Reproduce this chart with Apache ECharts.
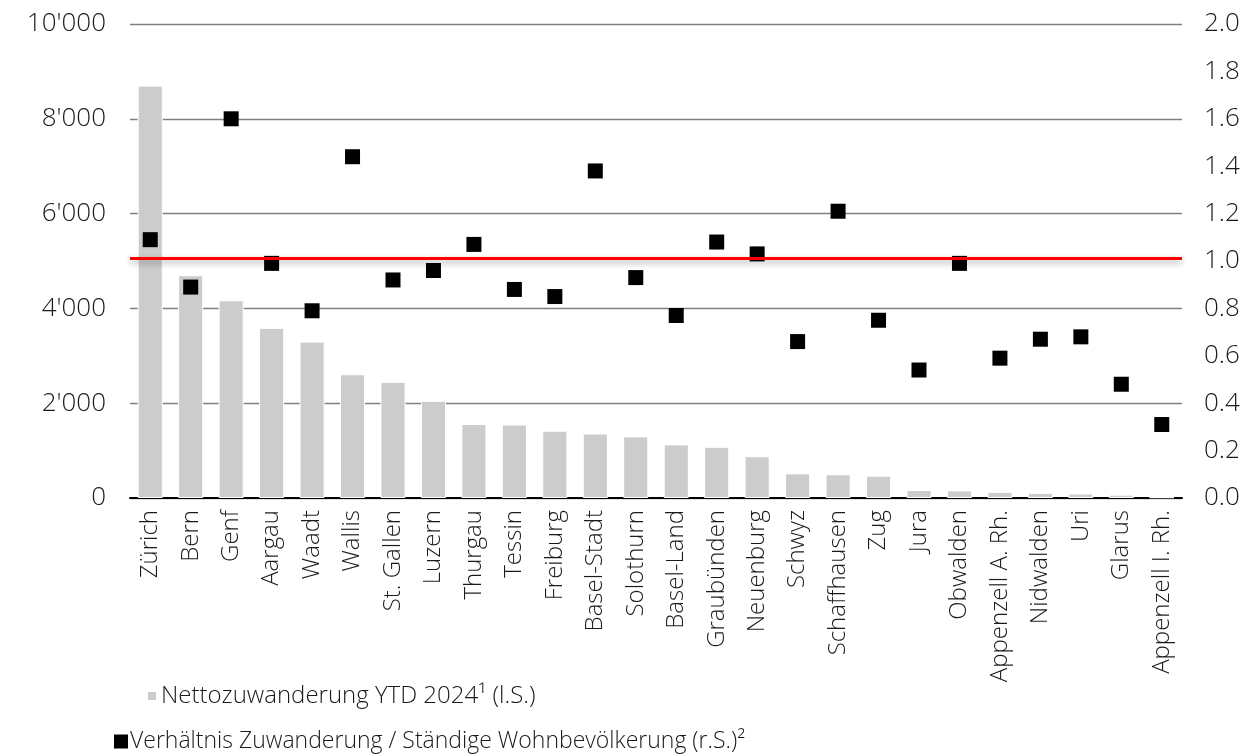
<!DOCTYPE html>
<html>
<head>
<meta charset="utf-8">
<title>Nettozuwanderung nach Kanton</title>
<script src="https://cdn.jsdelivr.net/npm/echarts@6/dist/echarts.min.js"></script>
<style>
  html, body { margin: 0; padding: 0; background: #ffffff; }
  #chart { width: 1247px; height: 754px; }
</style>
</head>
<body>
<div id="chart"></div>
<script>
// Cantons, ordered by net immigration
const cantons = [
  'Zürich', 'Bern', 'Genf', 'Aargau', 'Waadt', 'Wallis', 'St. Gallen', 'Luzern',
  'Thurgau', 'Tessin', 'Freiburg', 'Basel-Stadt', 'Solothurn', 'Basel-Land',
  'Graubünden', 'Neuenburg', 'Schwyz', 'Schaffhausen', 'Zug', 'Jura', 'Obwalden',
  'Appenzell A. Rh.', 'Nidwalden', 'Uri', 'Glarus', 'Appenzell I. Rh.'
];

// Net immigration YTD 2024 (left scale)
const netImmigration = [
  8700, 4700, 4170, 3590, 3300, 2610, 2450, 2050,
  1560, 1550, 1420, 1360, 1300, 1130,
  1080, 880, 520, 500, 470, 170, 160,
  130, 110, 95, 70, 15
];

// Ratio immigration / resident population (right scale)
const ratio = [
  1.09, 0.89, 1.60, 0.99, 0.79, 1.44, 0.92, 0.96,
  1.07, 0.88, 0.85, 1.38, 0.93, 0.77,
  1.08, 1.03, 0.66, 1.21, 0.75, 0.54, 0.99,
  0.59, 0.67, 0.68, 0.48, 0.31
];

// Reference level on the right scale
const ratioReference = 1.015;

const leftTicks = { min: 0, max: 10000, interval: 2000 };
const rightTicks = { min: 0, max: 2, interval: 0.2 };

const barName = 'Nettozuwanderung YTD 2024¹ (l.S.)';
const dotName = 'Verhältnis Zuwanderung / Ständige Wohnbevölkerung (r.S.)²';

const FONT = '"Open Sans", "Noto Sans", sans-serif';
const TEXT = '#1a1a1a';
const WEIGHT = 300;

function thousands(v) {
  return String(Math.round(v)).replace(/\B(?=(\d{3})+(?!\d))/g, "'");
}

const chart = echarts.init(document.getElementById('chart'), null, { renderer: 'canvas' });

chart.setOption({
  animation: false,
  backgroundColor: '#ffffff',
  textStyle: { fontFamily: FONT, color: TEXT },
  grid: { left: 130, right: 65, top: 24, bottom: 256, containLabel: false },
  legend: [
    {
      data: [{ name: barName, icon: 'rect' }],
      left: 141, top: 679,
      itemWidth: 10, itemHeight: 10, itemGap: 0,
      textStyle: { fontFamily: FONT, fontSize: 24, fontWeight: WEIGHT, color: TEXT, padding: [0, 0, 0, -1] },
      selectedMode: false
    },
    {
      data: [{ name: dotName, icon: 'rect' }],
      left: 109, top: 725,
      itemWidth: 14, itemHeight: 14, itemGap: 0,
      textStyle: { fontFamily: FONT, fontSize: 23, fontWeight: WEIGHT, color: TEXT, padding: [0, 0, 0, -3] },
      selectedMode: false
    }
  ],
  xAxis: {
    type: 'category',
    data: cantons,
    axisLine: { lineStyle: { color: '#000000', width: 2 } },
    axisTick: { show: false },
    axisLabel: {
      rotate: 90,
      interval: 0,
      margin: 12,
      fontFamily: FONT,
      fontSize: 24,
      fontWeight: WEIGHT,
      color: TEXT
    }
  },
  yAxis: [
    {
      type: 'value',
      min: leftTicks.min, max: leftTicks.max, interval: leftTicks.interval,
      axisLine: { show: false },
      axisTick: { show: false },
      splitLine: { lineStyle: { color: '#7f7f7f', width: 1.3 } },
      axisLabel: {
        margin: 24,
        fontFamily: FONT, fontSize: 26, fontWeight: WEIGHT, color: TEXT,
        formatter: thousands
      }
    },
    {
      type: 'value',
      position: 'right',
      min: rightTicks.min, max: rightTicks.max, interval: rightTicks.interval,
      axisLine: { show: false },
      axisTick: { show: false },
      splitLine: { show: false },
      axisLabel: {
        margin: 22,
        fontFamily: FONT, fontSize: 26, fontWeight: WEIGHT, color: TEXT,
        formatter: v => v.toFixed(1)
      }
    }
  ],
  series: [
    {
      name: barName,
      type: 'bar',
      data: netImmigration,
      barWidth: '62%',
      itemStyle: { color: '#cccccc', borderColor: '#ffffff', borderWidth: 1 },
      z: 2
    },
    {
      name: dotName,
      type: 'scatter',
      yAxisIndex: 1,
      data: ratio,
      symbol: 'rect',
      symbolSize: 15,
      itemStyle: { color: '#000000', opacity: 1 },
      z: 3
    },
    {
      name: 'Referenz',
      type: 'scatter',
      yAxisIndex: 1,
      data: [],
      z: 4,
      markLine: {
        silent: true,
        symbol: ['none', 'none'],
        label: { show: false },
        lineStyle: {
          color: '#ff0000', width: 3, type: 'solid',
          shadowColor: 'rgba(0,0,0,0.35)', shadowBlur: 6, shadowOffsetY: 3
        },
        data: [{ yAxis: ratioReference }]
      }
    }
  ]
});
</script>
</body>
</html>
